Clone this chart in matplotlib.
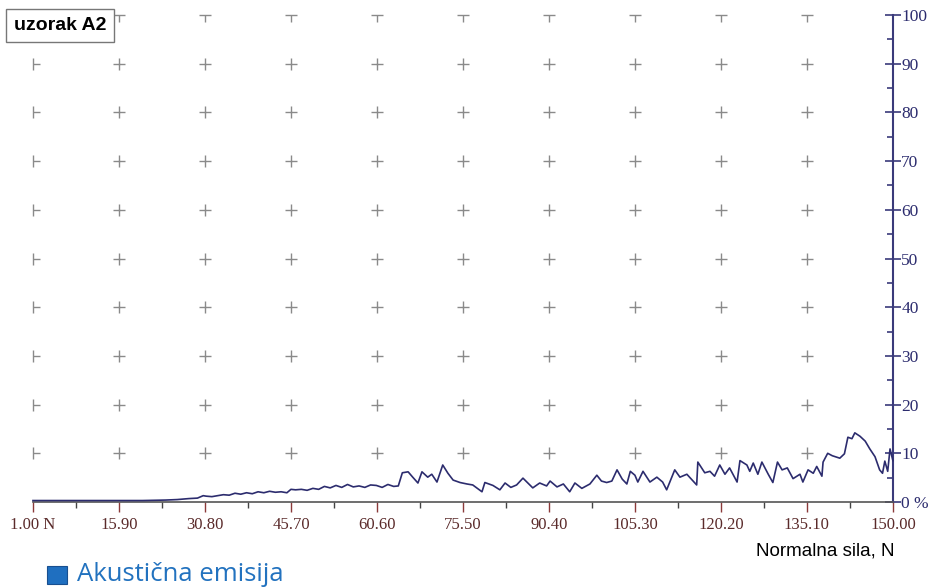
import numpy as np
import matplotlib.pyplot as plt
from matplotlib.patches import Rectangle

# normal force (N) and acoustic emission (%)
force = [1, 5, 10, 15, 20, 22, 24, 26, 28, 29.5,
         30.5, 31, 32, 33, 34, 35, 36, 37, 38, 39,
         40, 41, 42, 43, 44, 45, 45.7, 46.5, 47.5, 48.5,
         49.5, 50.5, 51.5, 52.5, 53.5, 54.5, 55.5, 56.5, 57.5, 58.5,
         59.5, 60.5, 61.5, 62.5, 63.5, 64.3, 65, 66, 66.8, 67.7,
         68.4, 69.4, 70.1, 71, 72, 72.9, 73.8, 75, 76.2, 77.2,
         78.8, 79.3, 80.7, 81.9, 82.8, 83.8, 84.8, 85.9, 87.6, 88.8,
         90, 90.6, 91.8, 92.9, 94, 94.9, 96.1, 97.5, 98.7, 99.5,
         100.4, 101.3, 102.2, 103.1, 103.9, 104.5, 105.3, 105.8, 106.7, 107.9,
         109.1, 110.1, 110.8, 112.2, 113.1, 114.3, 116.0, 116.2, 117.4, 118.3,
         119.1, 120.0, 120.9, 121.7, 123.0, 123.5, 124.7, 125.2, 125.8, 126.6,
         127.3, 128.4, 129.2, 130.0, 130.8, 131.7, 132.7, 133.9, 134.4, 135.3,
         136.2, 136.8, 137.7, 137.9, 138.7, 139.5, 140.8, 141.6, 142.2, 142.9,
         143.4, 144.3, 145.2, 146.0, 146.9, 147.7, 148.2, 148.6, 149.1, 149.5,
         150]
emission = [0.3, 0.3, 0.3, 0.3, 0.3, 0.35, 0.4, 0.5, 0.7, 0.8,
            1.3, 1.2, 1.1, 1.3, 1.5, 1.4, 1.8, 1.6, 1.9, 1.7,
            2.1, 1.9, 2.2, 2.0, 2.1, 1.9, 2.6, 2.5, 2.6, 2.4,
            2.8, 2.6, 3.2, 2.9, 3.4, 3.0, 3.6, 3.1, 3.3, 3.0,
            3.5, 3.4, 3.0, 3.6, 3.2, 3.3, 6.0, 6.2, 5.1, 3.9,
            6.2, 5.1, 5.7, 4.1, 7.6, 5.9, 4.5, 4.0, 3.7, 3.5,
            2.1, 4.0, 3.4, 2.5, 3.9, 3.0, 3.5, 4.9, 2.9, 3.9,
            3.3, 4.3, 3.1, 3.7, 2.1, 3.9, 2.8, 3.7, 5.5, 4.3,
            4.0, 4.3, 6.6, 4.7, 3.7, 6.3, 5.5, 4.1, 6.3, 4.1,
            5.1, 4.1, 2.5, 6.6, 5.1, 5.7, 3.5, 8.2, 6.0, 6.3,
            5.3, 7.6, 5.7, 7.0, 4.1, 8.5, 7.6, 6.3, 8.0, 5.7,
            8.2, 5.7, 4.0, 8.2, 6.6, 7.0, 4.8, 5.7, 4.1, 6.6,
            5.9, 7.3, 5.3, 8.2, 10.0, 9.5, 9.0, 9.9, 13.3, 13.0,
            14.2, 13.5, 12.5, 10.9, 9.3, 6.6, 5.9, 8.4, 6.3, 10.9,
            8.5]

x_ticks = [1.00, 15.90, 30.80, 45.70, 60.60, 75.50, 90.40, 105.30, 120.20, 135.10, 150.00]
x_labels = ['1.00 N', '15.90', '30.80', '45.70', '60.60', '75.50', '90.40',
            '105.30', '120.20', '135.10', '150.00']
y_ticks = [0, 10, 20, 30, 40, 50, 60, 70, 80, 90, 100]
y_labels = ['0 %', '10', '20', '30', '40', '50', '60', '70', '80', '90', '100']

navy = '#2c2c6e'
fig = plt.figure(figsize=(9.34, 5.87), dpi=100)
ax = fig.add_axes([0.0353, 0.1448, 0.9207, 0.8296])
ax.set_xlim(1, 150)
ax.set_ylim(0, 100)

# grid crosses
for xv in x_ticks[:-1]:
    for yv in y_ticks[1:]:
        if xv == x_ticks[0] and yv == y_ticks[-1]:
            continue
        if xv == x_ticks[0]:
            ax.plot(xv, yv, marker='|', ms=9, mew=1, color='#8a8a8a', clip_on=False)
            ax.plot(xv, yv, marker=1, ms=5, mew=1, color='#8a8a8a', clip_on=False)
        elif yv == y_ticks[-1]:
            ax.plot(xv, yv, marker='_', ms=9, mew=1, color='#8a8a8a', clip_on=False)
            ax.plot(xv, yv, marker=3, ms=5, mew=1, color='#8a8a8a', clip_on=False)
        else:
            ax.plot(xv, yv, marker='+', ms=9, mew=1, color='#8a8a8a', clip_on=False)

ax.plot(force, emission, color=navy, lw=1.2, clip_on=False, zorder=3)

for s in ['top', 'left']:
    ax.spines[s].set_visible(False)
ax.spines['bottom'].set_color('#555555')
ax.spines['bottom'].set_linewidth(1.2)
ax.spines['right'].set_color('#3a3a7a')
ax.spines['right'].set_linewidth(1.5)

ax.set_xticks(x_ticks)
ax.set_xticklabels(x_labels, family='Liberation Serif', fontsize=12, color='#5a2a2a')
ax.set_xticks([(a + b) / 2 for a, b in zip(x_ticks[:-1], x_ticks[1:])], minor=True)
ax.tick_params(axis='x', which='major', length=7, width=1, color='#8b3a3a', pad=4)
ax.tick_params(axis='x', which='minor', length=4, width=1, color='#444444')

ax.yaxis.tick_right()
ax.set_yticks(y_ticks)
ax.set_yticklabels(y_labels, family='Liberation Serif', fontsize=12.5, color=navy)
ax.set_yticks(np.arange(5, 100, 10), minor=True)
ax.tick_params(axis='y', which='major', direction='inout', length=12, width=1.2,
               color='#3a3a7a', pad=0)
ax.tick_params(axis='y', which='minor', direction='in', length=4, width=1.2,
               color='#3a3a7a', right=True)

fig.text(0.0145, 0.9566, 'uzorak A2', family='Liberation Sans', fontweight='bold',
         fontsize=14, color='black', va='center', ha='left', zorder=5,
         bbox=dict(boxstyle='square,pad=0.4', fc='white', ec='#777777', lw=1))

fig.text(0.958, 0.062, 'Normalna sila, N', family='Liberation Sans',
         fontsize=13.5, color='black', ha='right', va='center')

fig.patches.append(Rectangle((0.0503, 0.0058), 0.0214, 0.0307, transform=fig.transFigure,
                             fc='#1f6fc0', ec='#184f90', lw=0.8))
fig.text(0.0825, 0.022, 'Akustična emisija', family='Open Sans', fontsize=18.5,
         color='#2272bf', ha='left', va='center')

fig.savefig('out.png', dpi=100, facecolor='white')
